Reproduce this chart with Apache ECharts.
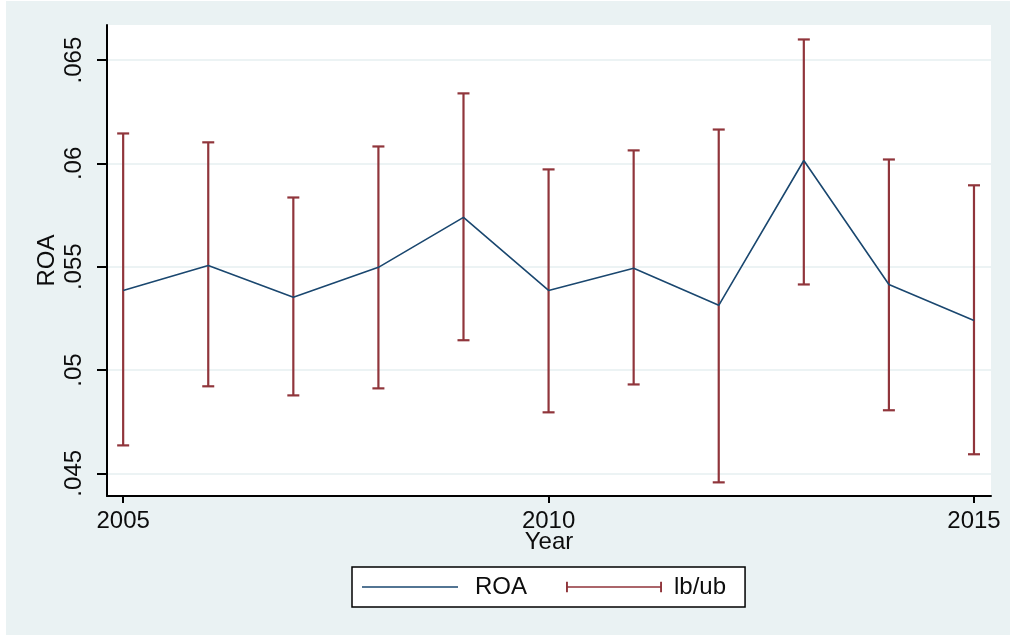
<!DOCTYPE html>
<html>
<head>
<meta charset="utf-8">
<script src="https://cdn.jsdelivr.net/npm/echarts@6/dist/echarts.min.js"></script>
<style>
  html, body { margin: 0; padding: 0; background: #fff; }
  #chart { position: absolute; left: 6px; top: 1px; width: 1004px; height: 634px; }
</style>
</head>
<body>
<div id="chart"></div>
<script>
// ROA by year with lb/ub caps
const years = [2005, 2006, 2007, 2008, 2009, 2010, 2011, 2012, 2013, 2014, 2015];
const roa = [0.05385, 0.05506, 0.05352, 0.05497, 0.05739, 0.05385, 0.05492, 0.05313, 0.06014, 0.05414, 0.05240];
const lb = [0.04635, 0.04921, 0.04877, 0.04911, 0.05144, 0.04795, 0.04930, 0.04456, 0.05414, 0.04805, 0.04592];
const ub = [0.06145, 0.06102, 0.05835, 0.06082, 0.06339, 0.05971, 0.06063, 0.06164, 0.06600, 0.06019, 0.05894];
const yTicks = [0.045, 0.05, 0.055, 0.06, 0.065];
const xTicks = [2005, 2010, 2015];

const font = "'Liberation Sans', Arial, sans-serif";
const lineColor = "#1A476F";
const barColor = "#90353B";

const chart = echarts.init(document.getElementById("chart"));

const option = {
  backgroundColor: "#EAF2F3",
  animation: false,
  grid: {
    left: 101,
    top: 24,
    right: 19,
    bottom: 139,
    show: true,
    backgroundColor: "#fff",
    borderWidth: 0,
  },
  legend: {
    left: 346,
    top: 566,
    padding: [8, 19, 8, 10],
    borderColor: "#000",
    borderWidth: 1.5,
    backgroundColor: "#fff",
    itemWidth: 96,
    itemHeight: 11,
    itemGap: 39,
    textStyle: { fontFamily: font, fontSize: 24, color: "#0d0d0d" },
    data: [
      { name: "ROA", icon: "path://M0,0H100V1.6H0Z", textStyle: { padding: [0, 0, 0, 12] } },
      { name: "lb/ub", icon: "path://M0,0H2V11H0Z M2,4.7H98V6.3H2Z M98,0H100V11H98Z", textStyle: { padding: [0, 0, 0, 7] } },
    ],
  },
  xAxis: {
    type: "value",
    min: 2004.81,
    max: 2015.2,
    name: "Year",
    nameLocation: "middle",
    nameGap: 34,
    nameMoveOverlap: false,
    nameTextStyle: { fontFamily: font, fontSize: 24, color: "#0d0d0d" },
    axisLine: { lineStyle: { color: "#000", width: 2 } },
    axisTick: { length: 7, lineStyle: { color: "#000", width: 2 }, customValues: xTicks },
    axisLabel: {
      fontFamily: font,
      fontSize: 24,
      color: "#0d0d0d",
      margin: 13,
      customValues: xTicks,
      formatter: (v) => String(v),
    },
    splitLine: { show: false },
  },
  yAxis: {
    type: "value",
    min: 0.0439,
    max: 0.0667,
    name: "ROA",
    nameLocation: "middle",
    nameRotate: 90,
    nameGap: 48,
    nameMoveOverlap: false,
    nameTextStyle: { fontFamily: font, fontSize: 24, color: "#0d0d0d" },
    axisLine: { show: true, lineStyle: { color: "#000", width: 2 } },
    axisTick: { show: true, length: 10, lineStyle: { color: "#000", width: 2 }, customValues: yTicks },
    axisLabel: {
      rotate: 90,
      fontFamily: font,
      fontSize: 24,
      color: "#0d0d0d",
      margin: 21,
      customValues: yTicks,
      formatter: (v) => String(v).replace(/^0/, ""),
    },
    splitLine: { show: true, lineStyle: { color: "#E6EFF1", width: 1.5 } },
  },
  series: [
    {
      name: "lb/ub",
      type: "custom",
      z: 2,
      itemStyle: { color: barColor },
      data: years.map((y, i) => [y, lb[i], ub[i]]),
      renderItem: function (params, api) {
        const lo = api.coord([api.value(0), api.value(1)]);
        const hi = api.coord([api.value(0), api.value(2)]);
        const w = 6;
        const style = { stroke: barColor, lineWidth: 2.2, fill: null };
        return {
          type: "group",
          children: [
            { type: "line", shape: { x1: lo[0], y1: lo[1], x2: hi[0], y2: hi[1] }, style: style },
            { type: "line", shape: { x1: lo[0] - w, y1: lo[1], x2: lo[0] + w, y2: lo[1] }, style: style },
            { type: "line", shape: { x1: hi[0] - w, y1: hi[1], x2: hi[0] + w, y2: hi[1] }, style: style },
          ],
        };
      },
    },
    {
      name: "ROA",
      type: "line",
      z: 3,
      symbol: "none",
      color: lineColor,
      lineStyle: { color: lineColor, width: 1.6 },
      data: years.map((y, i) => [y, roa[i]]),
    },
  ],
};

chart.setOption(option);
</script>
</body>
</html>
